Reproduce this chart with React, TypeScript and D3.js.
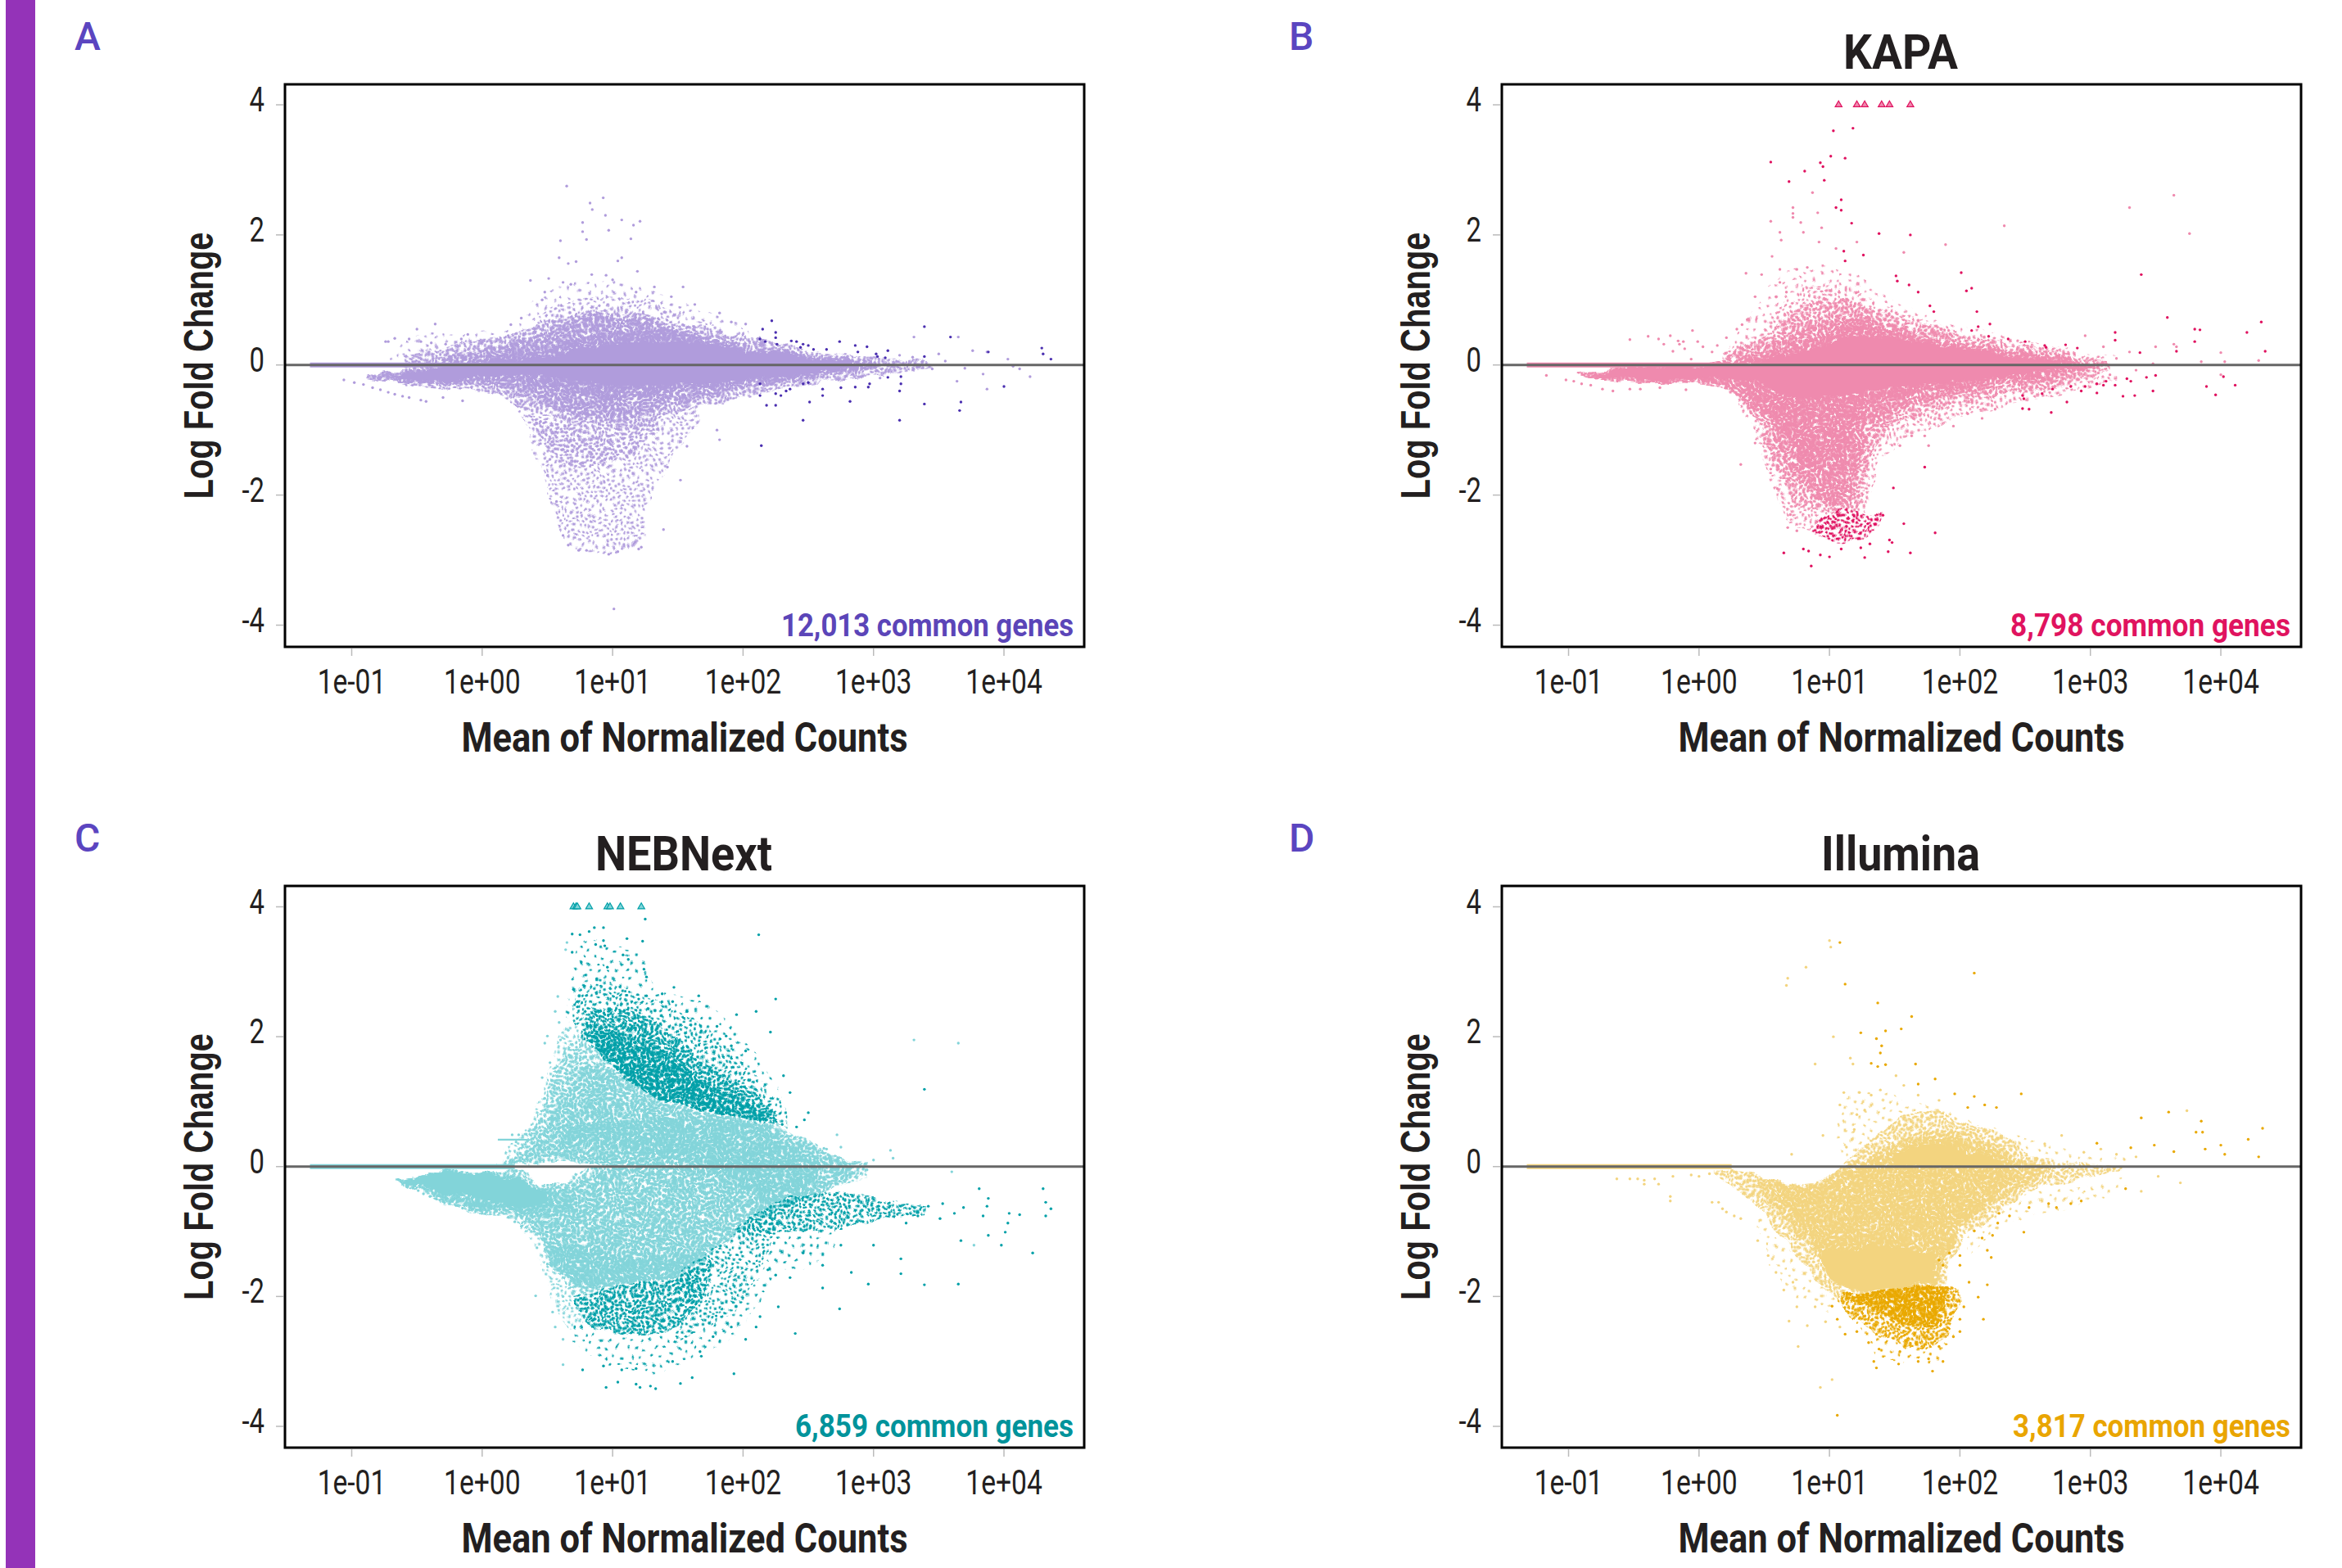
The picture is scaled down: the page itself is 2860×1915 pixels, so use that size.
import React from "react";
import * as d3 from "d3";

// Individually visible genes are read one by one as [log10 mean, LFC].
type Band = [number, number, number][];
type Pt = [number, number][];

const xTicks = [0.1, 1, 10, 100, 1000, 10000];
const xTickLabels = ["1e-01", "1e+00", "1e+01", "1e+02", "1e+03", "1e+04"];
const yTicks = [4, 2, 0, -2, -4];

// ---------- A ----------
const aSparseUp: Band = [[.25,.4,.3],[.4,1,.4],[.6,1.2,.5],[.8,1.3,.6],[1,1.3,.7],[1.2,1.25,.6],[1.4,1.05,.5],[1.6,.9,.4],[1.9,.65,.3],[2.2,.35,.25]];
const aSparseLeft: Band = [[-.7,.2,.1],[-.4,.5,.15],[-.1,.45,.2],[.2,.55,.3],[.35,.3,.25]];
const aThinUp: Band = [[.3,.4,.3],[.5,.85,.4],[.7,1,.5],[.9,1.05,.6],[1.1,1.05,.6],[1.3,1,.5],[1.5,.8,.4],[1.8,.6,.3],[2.1,.42,.25],[2.4,.24,.2]];
const aThinDown: Band = [[.28,-.55,-.65],[.4,-.7,-1.3],[.5,-.8,-1.9],[.58,-.8,-2.5],[.68,-.8,-2.75],[.8,-.85,-2.85],[.98,-.9,-2.9],[1.1,-.9,-2.8],[1.22,-.85,-2.75],[1.28,-.8,-2.1],[1.38,-.75,-1.7],[1.5,-.7,-1.25],[1.65,-.65,-.95]];
const aMidDown: Band = [[.35,-.7,-.8],[.5,-.85,-1.3],[.7,-.9,-1.6],[1,-1,-1.5],[1.2,-.95,-1.3],[1.35,-.85,-1]];
const aMid: Band = [[-.6,.12,-.3],[-.3,.28,-.38],[0,.38,-.42],[.2,.45,-.55],[.4,.6,-.7],[.6,.72,-.85],[.8,.8,-.95],[1,.85,-1],[1.2,.8,-.95],[1.4,.7,-.8],[1.6,.62,-.68],[1.9,.48,-.55],[2.2,.36,-.42],[2.5,.24,-.3],[2.8,.16,-.22],[3.1,.1,-.14],[3.45,.02,-.03]];
const aSpeck: Band = [[-.3,.12,-.3],[0,.25,-.32],[.3,.38,-.45],[.6,.58,-.7],[.9,.76,-.85],[1.2,.72,-.78],[1.5,.55,-.6],[1.8,.4,-.46],[2.1,.28,-.33],[2.4,.19,-.25],[2.7,.12,-.16],[3.05,.04,-.06]];
const aDense: Band = [[-.88,-.18,-.2],[-.6,-.08,-.28],[-.3,-.02,-.28],[0,.12,-.24],[.5,.26,-.34],[1,.52,-.52],[1.4,.5,-.42],[1.8,.33,-.33],[2.2,.21,-.24],[2.6,.13,-.15],[3,.03,-.05]];
const aSolid: Band = [[-.7,-.17,-.2],[-.3,-.02,-.25],[0,.05,-.15],[.5,.14,-.18],[1,.32,-.3],[1.5,.35,-.3],[2,.22,-.22],[2.5,.11,-.13],[2.9,0,-.02]];
const aPale: Pt = [[.648,2.75],[.928,2.57],[.827,2.49],[.844,2.39],[.945,2.3],[1.07,2.23],[1.21,2.21],[.77,2.19],[1.16,2.15],[.97,2.07],[.77,2.05],[.8,1.93],[1.14,1.94],[.6,1.91],[1.07,1.65],[.59,1.65],[1.04,1.6],[.72,1.59],[.66,1.56],[1.19,1.44],[.51,1.33],[.37,1.3],[.84,1.39],[.95,1.38],[1,1.31],[1.54,1.2],[1.32,1.2],[.62,1.27],[.68,1.24],[.48,1.12],[.46,1],[1.18,1.12],[1.45,1.05],[1.63,.93],[1.82,.8],[1.91,.66],[2.02,.63],[.3,.72],[.22,.62],[.2,.45],[-.36,.63],[-.5,.55],[-.67,.41],[-.74,.36],[-.72,.36],[-.56,.4],[-.47,.36],[-.39,.34],[-.11,.47],[-.16,.4],[-.28,.32],[-1.06,-.23],[-.98,-.27],[-.91,-.3],[-.84,-.35],[-.78,-.38],[-.72,-.42],[-.67,-.45],[-.61,-.48],[-.56,-.5],[-.47,-.54],[-.43,-.56],[-.3,-.5],[-.15,-.55],[1.01,-3.75],[1.39,-2.53],[1.52,-1.77],[1.42,-1.57],[1.82,-1.15],[1.8,-1],[1.57,-1.25],[.62,-2.62],[.66,-2.77],[.74,-2.85],[.8,-2.85],[.97,-2.91],[1.04,-2.87],[1.22,-2.8],[1.2,-2.83],[.52,-1.45],[.5,-1.7],[.57,-2.1],[2.9,-.18],[3.05,-.2],[3.2,.15],[3.3,.12],[3.31,.43],[3.65,.43],[3.5,.17],[3.76,.22],[3.87,.2],[4.03,.09],[4.07,-.02],[3.64,-.25],[3.87,-.37],[4.12,-.06],[4.2,-.18],[3.84,-.14],[3.45,-.06],[3.55,.06],[3.7,-.05]];
const aDark: Pt = [[2.22,.68],[2.15,.55],[2.25,.5],[2.25,.42],[2.13,.4],[2.26,.32],[2.17,.36],[2.37,.37],[2.41,.36],[2.46,.32],[2.5,.3],[2.44,.27],[2.54,.24],[2.64,.24],[2.74,.36],[2.86,.3],[2.95,.28],[3.02,.17],[3.11,.22],[3.03,.13],[2.88,.2],[3.09,.11],[3.39,.59],[3.59,.43],[3.39,.13],[3.88,.2],[4.29,.26],[4.3,.17],[4.36,.09],[2.13,-.29],[2.13,-.47],[2.25,-.44],[2.33,-.4],[2.29,-.47],[2.18,-.62],[2.25,-.62],[2.36,-.37],[2.46,-.29],[2.5,-.27],[2.61,-.37],[2.61,-.47],[2.51,-.57],[2.46,-.85],[2.14,-1.24],[2.75,-.35],[2.86,-.34],[2.82,-.56],[2.97,-.29],[2.96,-.34],[3.11,-.19],[3.21,-.18],[3.21,-.29],[3.2,-.4],[3.2,-.85],[3.39,-.6],[3.67,-.57],[3.66,-.7],[4,-.33]];

// ---------- B ----------
const bSparseUp: Band = [[.2,.15,.05],[.4,.8,.1],[.6,1.35,.3],[.8,1.5,.5],[1,1.55,.6],[1.2,1.4,.6],[1.4,1.1,.5],[1.6,.9,.4],[1.9,.65,.3],[2.3,.5,.2],[2.7,.3,.1],[3.2,.1,.05]];
const bThinUp: Band = [[.2,.2,.02],[.5,.6,.1],[.7,1.1,.25],[.9,1.25,.4],[1.1,1.25,.5],[1.3,1,.5],[1.5,.85,.4],[1.8,.62,.3],[2.3,.42,.2],[2.8,.25,.1],[3.1,.1,.05]];
const bThinDown: Band = [[.2,-.3,-.4],[.4,-.5,-.95],[.5,-.7,-1.45],[.6,-.9,-2.05],[.75,-1.2,-2.5],[.9,-1.5,-2.55],[1.15,-1.5,-2.45],[1.27,-1.2,-2.3],[1.35,-1,-1.7],[1.5,-.8,-1.25],[1.8,-.6,-.95],[2.2,-.45,-.7],[2.6,-.3,-.52],[3,-.2,-.35],[3.2,-.15,-.2]];
const bMid: Band = [[.2,.1,-.38],[.4,.35,-.75],[.5,.45,-1.15],[.65,.7,-1.85],[.8,.9,-2.2],[1,1,-2.25],[1.15,1.02,-2.3],[1.25,.9,-2.1],[1.32,.85,-1.4],[1.45,.8,-1],[1.6,.7,-.85],[2,.47,-.6],[2.4,.32,-.45],[2.8,.18,-.32],[3.15,.03,-.08]];
const bSpeck: Band = [[0,.02,-.28],[.3,.12,-.5],[.5,.28,-.9],[.7,.45,-1.6],[.9,.65,-2.05],[1.1,.8,-2.15],[1.2,.8,-1.8],[1.3,.72,-1.1],[1.5,.62,-.75],[1.8,.42,-.55],[2.2,.28,-.4],[2.6,.18,-.28],[3.05,.02,-.05]];
const bDense: Band = [[-.95,-.12,-.14],[-.6,-.06,-.26],[-.3,-.02,-.28],[0,0,-.26],[.3,.05,-.38],[.6,.2,-.9],[.85,.4,-1.6],[1.05,.55,-1.7],[1.2,.6,-1],[1.4,.55,-.55],[1.9,.32,-.38],[2.3,.2,-.26],[2.7,.1,-.16],[3,.02,-.04]];
const bSolid: Band = [[-.8,-.13,-.17],[-.3,-.04,-.24],[0,-.02,-.2],[.4,.03,-.25],[.8,.2,-.5],[1.2,.42,-.45],[1.6,.38,-.32],[2,.24,-.24],[2.5,.11,-.13],[2.85,0,-.02]];
const bDarkMid: Band = [[.85,-2.5,-2.55],[1,-2.3,-2.7],[1.1,-2.2,-2.75],[1.2,-2.25,-2.7],[1.3,-2.3,-2.65],[1.4,-2.3,-2.35]];
const bPale: Pt = [[3.64,2.61],[3.3,2.42],[3.76,2.02],[2.34,2.14],[1.89,1.85],[.87,2.65],[.55,2.21],[.72,2.42],[.72,2.33],[.72,2.27],[.91,2.34],[.62,2.04],[.63,1.92],[.78,2.19],[.8,2.04],[.92,1.89],[.94,2.11],[1.21,1.89],[1.57,1.73],[1.05,1.79],[.56,1.67],[.62,1.47],[.36,1.41],[.48,1.39],[.83,1.5],[.75,1.47],[.62,1.27],[.43,1.05],[.59,1.05],[.67,1.12],[.37,.7],[.29,.55],[.21,.42],[.33,.62],[-.53,.39],[-.39,.44],[-.22,.45],[-.05,.53],[-.27,.32],[-.15,.32],[-.12,.36],[-.31,.4],[-.16,.37],[-.01,.36],[.03,.28],[-.2,.21],[-.06,.09],[-.11,.25],[.1,.2],[.14,.3],[-1.17,-.16],[-1.02,-.23],[-.96,-.25],[-.9,-.29],[-.83,-.31],[-.74,-.37],[-.66,-.4],[-.53,-.37],[-.45,-.37],[-.3,-.35],[-.1,-.38],[2.96,.45],[3.1,.28],[3.3,.2],[3.64,.32],[3.48,.02],[3.85,.05],[4,.19],[4.03,.05],[4.29,.07],[4,-.15],[3.5,.28],[3.66,.28],[3.2,.1],[3.35,-.08],[3.15,-.15],[.32,-1.53],[1.73,-1.09],[1.84,-.82],[1.76,-1.24],[1.63,-1.09],[1.54,-1.24],[1.95,-.94],[2.17,-.82],[2.06,-.75],[2.27,-.68],[.43,-1.2],[.55,-1.6],[.6,-1.9],[.7,-2.3],[.75,-2.55],[.68,-2.5]];
const bDark: Pt = [[1.03,3.6],[1.18,3.64],[1.01,3.21],[1.12,3.18],[.55,3.12],[.93,3.11],[.95,3.05],[.81,2.98],[.69,2.82],[.96,2.84],[1.09,2.54],[1.05,2.42],[1.09,2.38],[1.17,2.18],[1.38,2.02],[1.62,2],[1.11,1.75],[1.12,1.6],[1.26,1.69],[1.51,1.37],[1.52,1.29],[1.61,1.23],[2.01,1.42],[2.05,1.14],[2.09,1.18],[1.68,1.12],[3.39,1.39],[3.59,.73],[2.13,.82],[1.77,.91],[1.8,.82],[2.23,.63],[2.09,.53],[2.14,.59],[2.22,.44],[2.37,.4],[2.5,.36],[2.65,.3],[2.81,.31],[2.9,.26],[2.66,.27],[3.19,.5],[3.19,.38],[3.38,.19],[3.66,.21],[3.8,.55],[3.84,.54],[3.8,.36],[4.2,.5],[4.31,.66],[4.34,.21],[2.48,-.47],[2.48,-.67],[2.53,-.68],[2.49,-.52],[2.63,-.44],[2.71,-.37],[2.7,-.73],[2.82,-.57],[2.85,-.33],[2.93,-.4],[2.96,-.33],[3.05,-.43],[3.05,-.29],[3.1,-.31],[3.12,-.25],[3.19,-.31],[3.28,-.21],[3.31,-.25],[3.34,-.47],[3.25,-.48],[3.43,-.19],[3.48,-.4],[3.5,-.16],[3.89,-.33],[3.96,-.46],[4.11,-.31],[4.02,-.18],[.86,-3.09],[1,-2.95],[.93,-2.92],[.65,-2.89],[.84,-2.86],[.8,-2.83],[1.27,-2.96],[1.45,-2.87],[1.62,-2.89],[1.46,-2.69],[1.48,-2.73],[1.31,-2.75],[1.24,-2.81],[1.09,-2.83],[1.81,-2.58],[1.57,-2.44],[1.41,-2.31],[1.49,-1.89],[1.73,-1.57]];
const bCapped = [1.07, 1.21, 1.27, 1.4, 1.46, 1.62];

// ---------- C ----------
const cThinUp: Band = [[.15,.3,.05],[.35,.6,.2],[.5,1.4,.4],[.6,2,.8],[.7,2.3,1],[.85,2.05,1.2],[1,1.7,1.2]];
const cThinDown: Band = [[.3,-.8,-.9],[.45,-1.1,-1.5],[.55,-1.4,-2.1],[.65,-1.7,-2.45],[.78,-1.9,-2.5]];
const cMidUp: Band = [[.1,.03,0],[.3,.3,.02],[.45,.85,.05],[.55,1.4,.1],[.65,1.85,.1],[.75,1.98,.05],[.9,1.75,.02],[1,1.55,0],[1.25,1.15,0],[1.5,.95,0],[1.7,.85,0],[2,.75,0],[2.25,.65,0],[2.5,.4,0],[2.75,.15,0],[2.95,.05,0]];
const cMidDown: Band = [[-.65,-.2,-.22],[-.3,-.1,-.55],[0,-.08,-.72],[.2,-.06,-.8],[.35,-.08,-.95],[.45,-.28,-1.2],[.55,-.28,-1.55],[.65,-.25,-1.85],[.72,-.05,-1.95],[.9,-.02,-1.9],[1,0,-1.85],[1.25,0,-1.8],[1.5,0,-1.72],[1.7,0,-1.45],[2,0,-1],[2.25,0,-.7],[2.5,0,-.5],[2.75,0,-.3],[2.95,0,-.18]];
const cSpeckUp: Band = [[.2,.1,.02],[.4,.3,.08],[.55,.85,.15],[.7,1.35,.1],[.85,1.55,.05],[1,1.45,0],[1.25,1.1,0],[1.5,.92,0],[1.8,.8,0],[2.2,.62,0],[2.5,.35,0],[2.8,.08,0]];
const cSpeckDown: Band = [[-.6,-.2,-.24],[-.3,-.1,-.5],[0,-.08,-.68],[.2,-.1,-.72],[.35,-.3,-.85],[.5,-.4,-1.3],[.65,-.3,-1.7],[.8,-.15,-1.88],[1,-.05,-1.82],[1.25,0,-1.78],[1.5,0,-1.7],[1.7,0,-1.4],[2,0,-.98],[2.3,0,-.65],[2.6,0,-.42],[2.85,0,-.1]];
const cDenseWedge: Band = [[-.65,-.2,-.22],[-.4,-.12,-.4],[-.1,-.07,-.58],[.15,-.1,-.65],[.4,-.3,-.72],[.7,-.5,-.65]];
const cDenseUp: Band = [[.6,.45,.25],[.8,.7,.35],[1.1,.7,.3],[1.5,.75,.1],[1.9,.7,-.2],[2.2,.55,-.55],[2.45,.2,-.4],[2.6,.05,-.05]];
const cDenseDown: Band = [[.5,-1.25,-1.4],[.75,-1.2,-1.8],[1.1,-1.4,-1.8],[1.5,-1.4,-1.68],[1.7,-1.3,-1.42]];
const cSolidWedge: Band = [[-.6,-.2,-.22],[-.3,-.12,-.38],[0,-.1,-.5],[.3,-.25,-.6],[.5,-.45,-.55]];
const cDarkSparseUp: Band = [[.65,2.6,2.3],[.8,3.5,2.35],[1,3.4,2.4],[1.2,3.3,2.25],[1.35,2.7,2.1],[1.6,2.6,1.9],[1.9,2.2,1.4],[2.15,1.6,.95],[2.35,.8,.65]];
const cDarkThinUp: Band = [[.7,2.7,2.2],[.85,2.9,1.95],[1.05,2.8,1.6],[1.3,2.6,1.2],[1.55,2.35,.95],[1.8,2,.85],[2.05,1.5,.7],[2.35,.85,.62]];
const cDarkMidUp: Band = [[.75,2,1.98],[.85,2.4,1.9],[1,2.45,1.55],[1.25,2.3,1.15],[1.5,1.95,.95],[1.8,1.5,.82],[2,1.25,.75],[2.3,.72,.65]];
const cDarkSpeckUp: Band = [[.85,2.15,1.85],[1,2.1,1.55],[1.25,1.9,1.15],[1.5,1.6,.95],[1.75,1.25,.85],[2,1,.75],[2.2,.75,.68]];
const cDarkMidDown: Band = [[.72,-1.98,-2.1],[.8,-1.95,-2.4],[1,-1.85,-2.55],[1.25,-1.8,-2.6],[1.5,-1.72,-2.45],[1.65,-1.55,-2.1],[1.75,-1.4,-1.7]];
const cDarkThinDown: Band = [[1.5,-1.7,-2.7],[1.7,-1.35,-2.5],[1.9,-1.1,-2.3],[2.1,-.85,-1.7],[2.25,-.75,-1.1]];
const cDarkSparseDown: Band = [[.7,-2.4,-2.7],[1,-2.5,-3.1],[1.3,-2.6,-3.2],[1.55,-2.6,-3],[1.75,-2.3,-2.8],[2,-2,-2.45],[2.25,-1.3,-1.6]];
const cDarkPlume: Band = [[1.95,-.95,-1.05],[2.4,-.45,-1],[2.7,-.4,-.95],[3,-.5,-.85],[3.4,-.6,-.72]];
const cDarkPlumeLow: Band = [[2.1,-1.2,-1.3],[2.35,-1,-1.6],[2.7,-.95,-1.25]];
const cStreak: Band = [[.12,.43,.4],[.3,.43,.4],[.38,.42,.4]];
const cPale: Pt = [[3.31,1.95],[3.65,1.9],[3.13,.25],[3.15,.13],[.62,-3.05],[.62,-2.66],[.41,-1.99],[3.77,-1.21],[3.6,-.08],[2.72,.49],[2.64,.27],[2.62,.28],[2.55,.12],[.65,3.45],[.64,3.34],[.58,2.62],[.56,2.39],[.59,2.22],[.5,2.01],[.48,1.9],[.46,1.37],[.56,1.52],[.54,-2.24],[.56,-2.47],[.62,-2],[.23,.49],[.28,.49],[.33,.5],[.26,.38],[.36,.55],[-.64,-.2],[-.6,-.25],[-.57,-.29],[-.53,-.33],[-.49,-.37],[-.45,-.42],[-.4,-.46],[-.35,-.5],[-.3,-.54],[-.25,-.57],[-.2,-.6],[-.15,-.64],[-.1,-.67],[-.05,-.69],[0,-.72],[.2,-.78],[.25,-.85],[.3,-.92],[.42,-1.25],[.5,-1.5],[.48,1.05],[.52,1.6],[.6,1.95],[.66,2.1],[2.75,.3],[2.85,-.1],[2.95,-.05],[3,.1]];
const cDark: Pt = [[1.25,3.81],[.86,3.68],[.93,3.68],[.69,3.58],[.82,3.62],[.75,3.57],[.93,3.48],[1.11,3.51],[1.23,3.47],[.87,3.42],[.94,3.4],[.69,3.3],[2.12,3.57],[1.08,3.26],[1.12,3.19],[.76,3.15],[.96,3.07],[1.24,3.04],[1.26,2.92],[1.47,2.76],[1.66,2.63],[2.25,2.58],[2.1,2.39],[1.95,2.34],[2.21,2.07],[2.02,1.78],[2.31,1.4],[2.36,1.14],[2.5,.83],[2.47,.72],[2.41,.61],[2.3,.65],[3.39,1.19],[1.87,2.01],[1.91,1.86],[1.68,2.09],[1.8,2.16],[1.57,2.39],[1.46,2.54],[1.38,2.66],[1.26,2.63],[1.2,2.58],[.73,2.54],[.7,2.73],[.73,2.46],[.79,2.39],[1.93,-3.19],[.95,-3.4],[1.04,-3.32],[1.18,-3.35],[1.21,-3.4],[1.33,-3.42],[1.29,-3.38],[1.52,-3.34],[1.61,-3.25],[.77,-3.13],[.93,-3.07],[1.07,-3.13],[1.18,-3.11],[1.46,-3],[1.68,-2.92],[1.67,-2.85],[1.77,-2.62],[1.91,-2.47],[2.02,-2.66],[2.1,-2.47],[2.13,-2.31],[2.4,-2.57],[2.27,-2.16],[2.61,-1.87],[2.74,-2.19],[2.61,-1.52],[2.83,-1.63],[2.96,-1.81],[3.21,-1.65],[3.21,-1.42],[3.39,-1.82],[3.65,-1.81],[2.75,-1.21],[3,-1.21],[2.46,-1.33],[2.25,-1.67],[2.36,-1.71],[2.19,-1.59],[3.67,-1.14],[3.88,-1.06],[3.98,-1.21],[4.22,-1.33],[3.81,-.34],[3.88,-.49],[3.87,-.61],[3.84,-.76],[4.04,-.72],[4.03,-.87],[4.12,-.74],[4.01,-1.01],[4.3,-.34],[4.32,-.55],[4.36,-.65],[4.32,-.76],[3.69,-.63],[3.62,-.72],[3.53,-.57],[3.51,-.8],[3.42,-.61],[3.34,-.76],[3.25,-.87]];
const cCapped = [.7, .72, .73, .82, .96, .98, 1.06, 1.22];

// ---------- D ----------
const dMid: Band = [[.1,-.05,-.1],[.25,-.05,-.3],[.5,-.15,-.72],[.7,-.28,-1.25],[.9,-.25,-1.75],[1.05,-.1,-2],[1.2,.2,-1.97],[1.4,.55,-1.92],[1.6,.78,-1.88],[1.85,.85,-1.82],[2,.72,-1.15],[2.2,.58,-.85],[2.4,.4,-.55],[2.6,.12,-.35],[2.9,.06,-.22],[3.25,0,-.04]];
const dSpeck: Band = [[.45,-.15,-.4],[.55,-.2,-.58],[.8,-.3,-1.15],[1,-.15,-1.55],[1.2,.05,-1.88],[1.5,.35,-1.88],[1.8,.55,-1.78],[1.95,.55,-1.1],[2.2,.4,-.65],[2.5,.08,-.3],[2.7,0,-.05]];
const dDense: Band = [[.6,-.25,-.5],[.85,-.32,-1.1],[1.05,-.2,-1.75],[1.25,.02,-1.9],[1.5,.25,-1.88],[1.8,.45,-1.8],[1.95,.4,-1.15],[2.2,.25,-.55],[2.45,.05,-.15]];
const dSolidDown: Band = [[.95,-1.3,-1.5],[1.15,-1.3,-1.9],[1.35,-1.2,-1.9],[1.6,-1.25,-1.85],[1.8,-1.35,-1.78]];
const dSolidUp: Band = [[1.5,.2,.05],[1.8,.35,0],[2.1,.2,0],[2.35,.03,0]];
const dSparseUp: Band = [[1.05,.5,.1],[1.2,1.15,.2],[1.4,1.15,.5],[1.6,1,.7],[1.9,.9,.7],[2.1,.7,.5],[2.4,.5,.3],[2.6,.4,.1],[2.9,.2,.08],[3.3,.1,.05]];
const dSparseLow: Band = [[.45,-.7,-.9],[.6,-1.1,-1.7],[.75,-1.4,-2],[.95,-1.75,-2.2],[1.05,-2,-2.3]];
const dSparseRight: Band = [[2.05,-1.1,-1.4],[2.3,-.7,-1],[2.6,-.4,-.7],[3,-.28,-.55],[3.3,-.15,-.25]];
const dDarkSolid: Band = [[1.1,-1.96,-2],[1.3,-1.93,-2.18],[1.55,-1.88,-2.38],[1.75,-1.84,-2.48],[1.86,-1.82,-2.3],[1.9,-1.82,-1.9]];
const dDarkMid: Band = [[1.05,-1.97,-2.05],[1.3,-1.93,-2.5],[1.5,-1.9,-2.7],[1.75,-1.84,-2.8],[1.9,-1.82,-2.6],[2,-1.9,-2.1]];
const dDarkSparse: Band = [[1.2,-2.3,-2.4],[1.4,-2.6,-2.95],[1.6,-2.7,-3],[1.8,-2.7,-3.05],[1.95,-2.5,-2.6]];
const dPale: Pt = [[1,3.48],[1.01,3.38],[.82,3.07],[.68,2.9],[.67,2.79],[.89,1.58],[1.03,2],[1.16,1.67],[1.18,1.58],[1.11,1.14],[1.08,.95],[1.23,1.14],[.95,.48],[.71,.19],[1.13,.3],[1.19,.57],[1.21,.8],[1.27,.87],[1.32,1.1],[1.39,1.18],[1.51,1.4],[1.57,1.25],[1.68,1.1],[1.84,1.02],[3.74,.86],[3.69,-.25],[3.39,-.38],[3.52,-.15],[2.78,.48],[2.65,.35],[2.95,.22],[3.08,.27],[3.2,.19],[3.35,.15],[-.63,-.19],[-.53,-.19],[-.47,-.19],[-.42,-.21],[-.34,-.19],[-.31,-.27],[-.22,-.46],[-.22,-.53],[-.42,-.27],[-.2,-.15],[-.06,-.13],[0,-.15],[.08,-.11],[.1,-.55],[.15,-.55],[.18,-.65],[.21,-.7],[.27,-.76],[.32,-.8],[.45,-1.14],[.53,-1.37],[.59,-1.63],[.65,-1.9],[.69,-2.38],[.75,-2.16],[.83,-2.45],[.76,-2.77],[.93,-3.4],[1.02,-3.28],[.89,-2.16],[.97,-2.39],[.72,-1.78],[1.08,-2.47]];
const dDark: Pt = [[1.08,3.45],[1.12,2.81],[2.11,2.98],[1.37,2.52],[1.63,2.31],[1.55,2.12],[1.43,2.09],[1.24,2.06],[1.36,1.97],[1.4,1.86],[1.39,1.75],[1.32,1.59],[1.37,1.54],[1.43,1.57],[1.66,1.58],[1.81,1.35],[1.68,1.27],[1.96,1.12],[2.11,1.08],[2.47,1.12],[2.06,.91],[2.19,.95],[2.28,.91],[3.39,.75],[3.6,.84],[3.85,.7],[3.86,.53],[3.81,.53],[3.88,.27],[4,.33],[4.21,.42],[4.32,.59],[4.03,.19],[4.29,.15],[3.05,.36],[3.31,.29],[3.49,.33],[3.64,.23],[2.49,-1.01],[2.3,-.72],[2.38,-.76],[2.53,-.63],[2.68,-.57],[2.74,-.63],[2.85,-.57],[2.93,-.53],[3.27,-.34],[2.29,-.87],[2.25,-1.06],[2.17,-1.1],[2.11,-.99],[2.21,-1.29],[2.24,-1.4],[2,-1.37],[1.92,-1.33],[1.84,-1.44],[2,-1.52],[1.87,-1.52],[2.07,-1.78],[2.21,-1.82],[2.14,-2.01],[2.18,-2.35],[2.03,-2.16],[2,-2.35],[2,-2.54],[1.95,-2.62],[1.87,-3],[1.79,-3.15],[1.68,-3],[1.53,-3.04],[1.36,-3.1],[1.34,-3],[1.38,-2.81],[1.3,-2.71],[1.21,-2.54],[1.12,-2.58],[1.06,-2.35],[1.02,-2.15],[1.06,-3.83],[1.54,-2.85],[1.76,-2.96],[1.58,-2.76],[1.84,-2.77],[1.62,-2.72]];

// Genes lying on the zero line at the low-count end: [log10 start, log10 end]
const zeroStreak: [number, number] = [-1.32, .25];

// Irregular stipple tiles standing for overlapping genes inside the bands
const sparseTile: Pt = [[4,6],[15,3],[27,8],[38,4],[45,13],[9,15],[21,14],[33,17],[42,24],[3,24],[14,25],[26,23],[36,30],[7,33],[19,34],[29,38],[44,36],[12,43],[23,45],[36,42],[2,42]];
const midExtra: Pt = [[9,3],[20,5],[32,2],[43,7],[5,11],[14,10],[26,13],[38,11],[17,19],[29,18],[40,18],[6,20],[10,28],[22,28],[32,25],[46,29],[2,31],[15,30],[26,32],[40,33],[11,37],[24,39],[34,36],[5,39],[18,41],[30,44],[41,40],[8,46],[16,47],[28,47],[43,44],[20,22],[35,22],[46,19],[31,31],[12,20]];
const overlayTurns = [0, 37, 71, 113, 149, 19, 97];

type Fill = "solid" | "dense" | "speck" | "mid" | "pair" | "thin" | "sparse";
type Layer = { fill: Fill; tone: "pale" | "dark"; rows: Band };
type Panel = {
  key: string; tag: string; title: string; titleWidth: number; note: string;
  left: number; top: number; height: number; y4: number; y0: number; yM4: number;
  pale: string; dark: string; noteColor: string; noteWidth: number; angle: number; tagX: number;
  layers: Layer[]; palePts: Pt; darkPts: Pt; capped: number[];
};

const P = (fill: Fill, rows: Band): Layer => ({ fill, tone: "pale", rows });
const K = (fill: Fill, rows: Band): Layer => ({ fill, tone: "dark", rows });

const width = 976;
const panels: Panel[] = [
  { key: "a", tag: "A", title: "", titleWidth: 0, note: "12,013 common genes", left: 348, top: 103, height: 687, y4: 128, y0: 446.5, yM4: 763.5,
    pale: "#b09cdc", dark: "#4a2fb0", noteColor: "#5b45b8", noteWidth: 357, angle: 13, tagX: 92,
    layers: [P("sparse", aSparseUp), P("sparse", aSparseLeft), P("thin", aThinUp), P("thin", aThinDown), P("pair", aMidDown), P("mid", aMid), P("speck", aSpeck), P("dense", aDense), P("solid", aSolid)],
    palePts: aPale, darkPts: aDark, capped: [] },
  { key: "b", tag: "B", title: "KAPA", titleWidth: 140, note: "8,798 common genes", left: 1834, top: 103, height: 687, y4: 128, y0: 446.5, yM4: 763.5,
    pale: "#ef8aae", dark: "#e0115f", noteColor: "#e0135f", noteWidth: 342, angle: 31, tagX: 1575,
    layers: [P("sparse", bSparseUp), P("thin", bThinUp), P("thin", bThinDown), P("mid", bMid), P("speck", bSpeck), P("dense", bDense), P("solid", bSolid), K("pair", bDarkMid)],
    palePts: bPale, darkPts: bDark, capped: bCapped },
  { key: "c", tag: "C", title: "NEBNext", titleWidth: 216, note: "6,859 common genes", left: 348, top: 1082, height: 686, y4: 1107.5, y0: 1425, yM4: 1742,
    pale: "#82d4d9", dark: "#00a0a8", noteColor: "#00939b", noteWidth: 340, angle: 53, tagX: 92,
    layers: [P("thin", cThinUp), P("thin", cThinDown), P("mid", cMidUp), P("mid", cMidDown), P("speck", cSpeckUp), P("speck", cSpeckDown), P("dense", cDenseWedge), P("dense", cDenseUp), P("dense", cDenseDown), P("solid", cSolidWedge),
      K("sparse", cDarkSparseUp), K("thin", cDarkThinUp), K("mid", cDarkMidUp), K("speck", cDarkSpeckUp),
      K("sparse", cDarkSparseDown), K("thin", cDarkThinDown), K("mid", cDarkMidDown),
      K("pair", cDarkPlume), K("sparse", cDarkPlumeLow)],
    palePts: cPale, darkPts: cDark, capped: cCapped },
  { key: "d", tag: "D", title: "Illumina", titleWidth: 194, note: "3,817 common genes", left: 1834, top: 1082, height: 686, y4: 1107.5, y0: 1425, yM4: 1742,
    pale: "#f3d47f", dark: "#e9a800", noteColor: "#e9a500", noteWidth: 339, angle: 71, tagX: 1575,
    layers: [P("sparse", dSparseUp), P("sparse", dSparseLow), P("sparse", dSparseRight), P("mid", dMid), P("speck", dSpeck), P("dense", dDense), P("solid", dSolidDown), P("solid", dSolidUp),
      K("sparse", dDarkSparse), K("mid", dDarkMid), K("dense", dDarkSolid)],
    palePts: dPale, darkPts: dDark, capped: [] },
];

const FONT = "Roboto, sans-serif";
const INK = "#231f20";
const overlays: Record<string, number> = { thin: 1, pair: 2, mid: 3, speck: 5, dense: 7 };

function Patterns({ p }: { p: Panel }) {
  const tones: ["pale" | "dark", string][] = [["pale", p.pale], ["dark", p.dark]];
  const midTile = sparseTile.concat(midExtra);
  return (
    <>
      {tones.map(([tone, c]) => (
        <React.Fragment key={tone}>
          <pattern id={`${p.key}-${tone}-sparse`} patternUnits="userSpaceOnUse" width={48} height={48} patternTransform={`rotate(${p.angle})`}>
            {sparseTile.map(([x, y], i) => <circle key={i} cx={x} cy={y} r={1.7} fill={c} />)}
          </pattern>
          {overlayTurns.map((t, k) => (
            <pattern key={k} id={`${p.key}-${tone}-t${k}`} patternUnits="userSpaceOnUse" width={48} height={48} patternTransform={`rotate(${p.angle + t})`}>
              {midTile.map(([x, y], i) => <circle key={i} cx={x} cy={y} r={1.75} fill={c} />)}
            </pattern>
          ))}
        </React.Fragment>
      ))}
    </>
  );
}

function Chart({ p }: { p: Panel }) {
  const right = p.left + width;
  const bottom = p.top + p.height;
  const unit = (p.yM4 - p.y4) / 8;
  const x = d3.scaleLog()
    .domain([Math.pow(10, -1.5116), Math.pow(10, 4.615)])
    .range([p.left, right]);
  const y = d3.scaleLinear().domain([4, -4]).range([p.y4, p.y4 + unit * 8]);
  const area = d3.area<[number, number, number]>()
    .x((d) => x(Math.pow(10, d[0])))
    .y1((d) => y(d[1]))
    .y0((d) => y(d[2]))
    .curve(d3.curveMonotoneX);
  const tri = d3.symbol().type(d3.symbolTriangle).size(30)() as string;
  const cx = p.left + width / 2;
  const labelX = p.left - 25;
  return (
    <g>
      <g filter="url(#rough)">
        {p.layers.map((l, i) => {
          const d = area(l.rows) as string;
          if (l.fill === "solid") return <path key={i} d={d} fill={l.tone === "pale" ? p.pale : p.dark} />;
          if (l.fill === "sparse") return <path key={i} d={d} fill={`url(#${p.key}-${l.tone}-sparse)`} />;
          return (
            <g key={i}>
              {overlayTurns.slice(0, overlays[l.fill]).map((_, k) => (
                <path key={k} d={d} fill={`url(#${p.key}-${l.tone}-t${k})`} />
              ))}
            </g>
          );
        })}
      </g>
      {p.key === "c" && <path d={area(cStreak) as string} fill={p.pale} />}
      {p.palePts.map((d, i) => <circle key={i} cx={x(Math.pow(10, d[0]))} cy={y(d[1])} r={1.7} fill={p.pale} />)}
      {p.darkPts.map((d, i) => <circle key={i} cx={x(Math.pow(10, d[0]))} cy={y(d[1])} r={1.7} fill={p.dark} />)}
      {p.capped.map((d, i) => (
        <path key={i} d={tri} transform={`translate(${x(Math.pow(10, d))},${y(4)})`} fill={p.pale} stroke={p.dark} strokeWidth={1.2} />
      ))}
      <line x1={x(Math.pow(10, zeroStreak[0]))} x2={x(Math.pow(10, zeroStreak[1]))} y1={y(0)} y2={y(0)} stroke={p.pale} strokeWidth={6} />
      <line x1={p.left} x2={right} y1={y(0)} y2={y(0)} stroke="#666" strokeWidth={3} />
      <rect x={p.left} y={p.top} width={width} height={p.height} fill="none" stroke="#000" strokeWidth={3} />

      {yTicks.map((t) => (
        <g key={t}>
          <line x1={p.left - 11} x2={p.left - 2} y1={y(t)} y2={y(t)} stroke="#bbb" strokeWidth={1.5} />
          <text transform={`translate(${labelX},${y(t) + 8}) scale(.78,1)`} textAnchor="end"
            fontFamily={FONT} fontSize={42} fontWeight={400} fill={INK}>{t}</text>
        </g>
      ))}
      {xTicks.map((t, i) => (
        <g key={t}>
          <line x1={x(t)} x2={x(t)} y1={bottom + 2} y2={bottom + 11} stroke="#bbb" strokeWidth={1.5} />
          <text transform={`translate(${x(t)},${bottom + 57}) scale(.8,1)`} textAnchor="middle"
            fontFamily={FONT} fontSize={42} fontWeight={400} fill={INK}>{xTickLabels[i]}</text>
        </g>
      ))}
      <text x={cx} y={bottom + 128} textAnchor="middle" textLength={545} lengthAdjust="spacingAndGlyphs"
        fontFamily={FONT} fontSize={50} fontWeight={700} fill={INK}>Mean of Normalized Counts</text>
      <text transform={`translate(${p.left - 88},${(p.top + bottom) / 2}) rotate(-90)`} textAnchor="middle" textLength={326} lengthAdjust="spacingAndGlyphs"
        fontFamily="'Liberation Sans', Arial, sans-serif" fontSize={50} fontWeight={700} fill={INK}>Log Fold Change</text>
      {p.title && (
        <text x={cx - 1} y={p.top - 19} textAnchor="middle" fontFamily={FONT} fontSize={60} fontWeight={700} fill={INK}
          textLength={p.titleWidth} lengthAdjust="spacingAndGlyphs">{p.title}</text>
      )}
      <text x={right - 13 - p.noteWidth} y={bottom - 13} textLength={p.noteWidth} lengthAdjust="spacingAndGlyphs"
        fontFamily={FONT} fontSize={38} fontWeight={700} fill={p.noteColor}>{p.note}</text>
      <text x={p.tagX - 1} y={p.top - 42} fontFamily={FONT} fontSize={48} fontWeight={500} fill="#5b45c0">{p.tag}</text>
    </g>
  );
}

export default function App() {
  return (
    <svg width={2860} height={1915} viewBox="0 0 2860 1915"
      style={{ position: "absolute", left: 0, top: 0, background: "#fff" }}>
      <defs>
        {panels.map((p) => <Patterns key={p.key} p={p} />)}
        <filter id="rough" x="-5%" y="-5%" width="110%" height="110%" filterUnits="objectBoundingBox">
          <feTurbulence type="fractalNoise" baseFrequency="0.045" numOctaves={2} seed={4} />
          <feDisplacementMap in="SourceGraphic" scale={12} xChannelSelector="R" yChannelSelector="G" />
        </filter>
      </defs>
      <rect x={7} y={0} width={36} height={1915} fill="#9433b8" />
      {panels.map((p) => <Chart key={p.key} p={p} />)}
    </svg>
  );
}
